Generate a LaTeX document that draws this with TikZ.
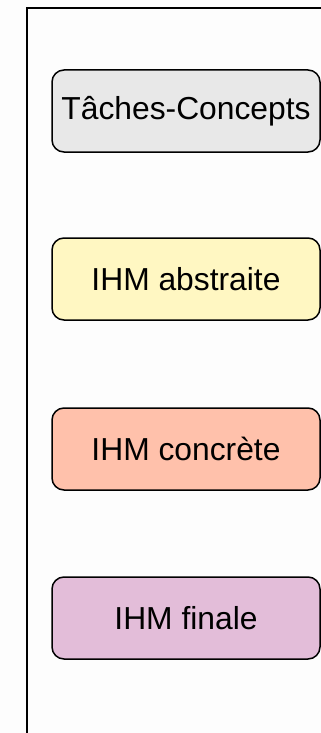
\documentclass[tikz,border=0pt]{standalone}
\usepackage{fontspec}
\setmainfont{Liberation Sans}
\definecolor{bggrey}{HTML}{FDFDFD}
\definecolor{tcfill}{HTML}{E8E8E8}
\definecolor{absfill}{HTML}{FFF7C2}
\definecolor{confill}{HTML}{FFC1AB}
\definecolor{finfill}{HTML}{E3BDD9}
\tikzset{
  layerbox/.style={draw=black, line width=1.5pt, rounded corners=12pt,
    minimum width=268pt, minimum height=82pt, inner sep=0pt,
    font=\fontsize{31.8}{38}\selectfont},
  framebar/.style={draw=black, line width=1.5pt}
}
\begin{document}
\begin{tikzpicture}[x=1pt,y=-1pt]
\useasboundingbox (0,0) rectangle (321,733);
\fill[bggrey] (0,0) rectangle (321,733);
\coordinate (fb) at (27,740);
\coordinate (fc) at (27,8);
\coordinate (fr) at (330,8);
\draw[framebar] (fb) -- (fc) -- (fr);
\node[layerbox, fill=tcfill] (tc) at (186,111) {Tâches-Concepts};
\node[layerbox, fill=absfill] (abs) at (186,279) {IHM abstraite};
\node[layerbox, fill=confill] (con) at (186,449) {IHM concrète};
\node[layerbox, fill=finfill] (fin) at (186,618) {IHM finale};
\end{tikzpicture}
\end{document}
